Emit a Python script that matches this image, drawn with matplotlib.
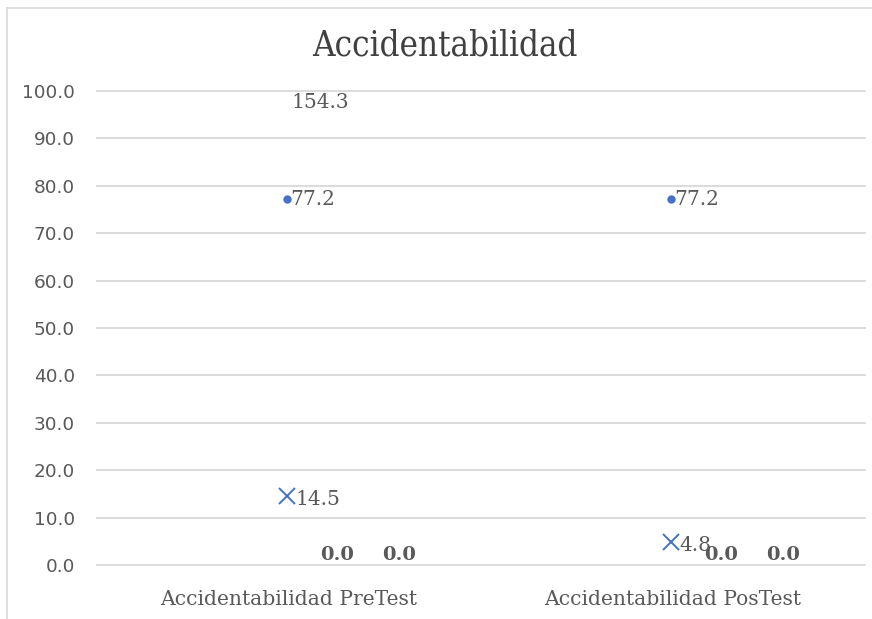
import matplotlib
matplotlib.use("Agg")
import matplotlib.pyplot as plt
from matplotlib.lines import Line2D

categories = ["Accidentabilidad PreTest", "Accidentabilidad PosTest"]
outliers = [77.2, 77.2]
means = [14.5, 4.8]
maxima = [154.3, None]
quartile_labels = [[0.0, 0.0], [0.0, 0.0]]
yticks = [0, 10, 20, 30, 40, 50, 60, 70, 80, 90, 100]

blue = "#4472c4"
text_grey = "#595959"
grid_grey = "#d9d9d9"

fig = plt.figure(figsize=(8.72, 6.19), dpi=100)
ax = fig.add_axes([97 / 872, 1 - 565 / 619, 768 / 872, 474 / 619])
ax.set_xlim(0, 2)
ax.set_ylim(0, 100)

# chart frame lines (top and left edge of the chart area)
fig.add_artist(Line2D([7 / 872, 1], [1 - 8 / 619] * 2, color="#d9d9d9", lw=1.2,
                      transform=fig.transFigure))
fig.add_artist(Line2D([7 / 872] * 2, [0, 1 - 8 / 619], color="#d9d9d9", lw=1.2,
                      transform=fig.transFigure))

for s in ax.spines.values():
    s.set_visible(False)
ax.set_yticks(yticks)
ax.set_yticklabels([f"{v:.1f}" for v in yticks], fontsize=13.3, color=text_grey,
                   family="DejaVu Sans")
ax.yaxis.grid(True, color=grid_grey, lw=1.3)
for gl in ax.get_ygridlines():
    gl.set_clip_on(False)
ax.set_axisbelow(True)
ax.tick_params(axis="y", length=0, pad=16)
ax.tick_params(axis="x", length=0, pad=18)

centers = [0.5, 1.5]
ax.set_xticks(centers)
ax.set_xticklabels(categories, fontsize=14.6, color=text_grey, family="DejaVu Serif")

serif = dict(family="DejaVu Serif", color=text_grey)
for i, c in enumerate(centers):
    x = c - 0.005
    ax.plot([x], [outliers[i]], "o", color=blue, ms=5, clip_on=False)
    ax.text(x + 0.008, outliers[i], f"{outliers[i]:.1f}", fontsize=14.5,
            va="center", ha="left", **serif)
    ax.plot([x], [means[i]], "x", color=blue, ms=11, mew=1.4, clip_on=False)
    ax.text(x + 0.022, means[i] - 0.6, f"{means[i]:.1f}", fontsize=14.5,
            va="center", ha="left", **serif)
    if maxima[i] is not None:
        ax.text(c + 0.082, 97.5, f"{maxima[i]:.1f}", fontsize=14.5,
                va="center", ha="center", **serif)
    for j, v in enumerate(quartile_labels[i]):
        ax.text(c + 0.125 + j * 0.162, 2.2, f"{v:.1f}", fontsize=14,
                va="center", ha="center", fontweight="bold", **serif)

fig.text(445 / 872, 1 - 46 / 619, "Accidentabilidad", fontsize=25,
         ha="center", va="center", color="#404040", family="DejaVu Serif",
         fontstretch="condensed")

fig.savefig("out.png", dpi=100, facecolor="white")
